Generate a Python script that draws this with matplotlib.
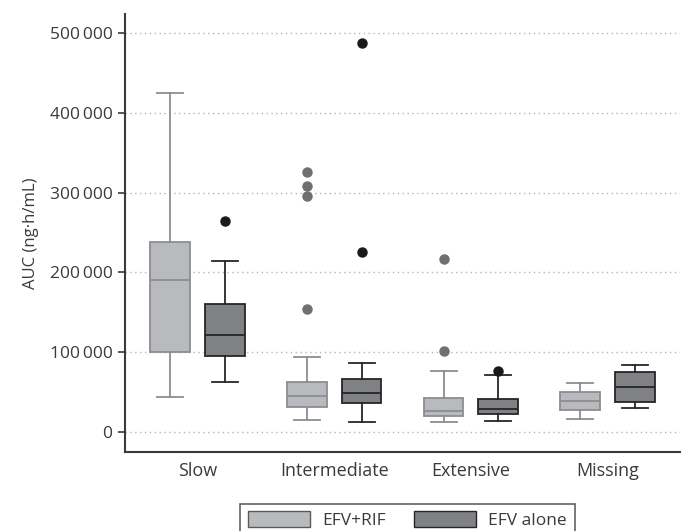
import matplotlib.pyplot as plt
from matplotlib.patches import Patch
from matplotlib.ticker import FuncFormatter

plt.rcParams['font.family'] = ['Open Sans', 'DejaVu Sans']

# Datos (AUC en ng·h/mL)
grupos = ["Slow", "Intermediate", "Extensive", "Missing"]

# EFV+RIF: [bigote inferior, Q1, mediana, Q3, bigote superior]
rif_stats = [
    [44000, 100000, 190000, 238000, 425000],
    [15000, 32000, 45000, 63000, 94000],
    [13000, 20000, 26000, 43000, 76000],
    [16000, 28000, 39000, 50000, 61000],
]
rif_outliers = [[], [326000, 308000, 296000, 154000], [217000, 102000], []]

# EFV alone
solo_stats = [
    [63000, 95000, 121000, 160000, 214000],
    [13000, 36000, 49000, 67000, 87000],
    [14000, 23000, 29000, 42000, 71000],
    [30000, 38000, 57000, 75000, 84000],
]
solo_outliers = [[265000], [487000, 226000], [76000], []]

yticks = [0, 100000, 200000, 300000, 400000, 500000]


def make_stats(stats, outliers):
    res = []
    for (lo, q1, med, q3, hi), fl in zip(stats, outliers):
        res.append(dict(whislo=lo, q1=q1, med=med, q3=q3, whishi=hi, fliers=fl))
    return res


fig = plt.figure(figsize=(6.81, 5.31), dpi=100)
ax = fig.add_axes([0.1836, 0.1488, 0.815, 0.825])

pos = list(range(len(grupos)))
off = 0.2

# Gráfica EFV+RIF
ax.bxp(make_stats(rif_stats, rif_outliers), positions=[p - off for p in pos],
       widths=0.29, capwidths=0.19, patch_artist=True,
       boxprops=dict(facecolor="#b9babd", edgecolor="#8c8d90", linewidth=1.3),
       medianprops=dict(color="#8c8d90", linewidth=1.3),
       whiskerprops=dict(color="#8c8d90", linewidth=1.3),
       capprops=dict(color="#8c8d90", linewidth=1.3),
       flierprops=dict(marker="o", markerfacecolor="#6e6f72", markeredgecolor="#6e6f72",
                       markersize=6.5), zorder=3)

# Gráfica EFV alone
ax.bxp(make_stats(solo_stats, solo_outliers), positions=[p + off for p in pos],
       widths=0.29, capwidths=0.19, patch_artist=True,
       boxprops=dict(facecolor="#808184", edgecolor="#262626", linewidth=1.3),
       medianprops=dict(color="#262626", linewidth=1.3),
       whiskerprops=dict(color="#262626", linewidth=1.3),
       capprops=dict(color="#262626", linewidth=1.3),
       flierprops=dict(marker="o", markerfacecolor="#1a1a1a", markeredgecolor="#1a1a1a",
                       markersize=6.5), zorder=3)

ax.set_xlim(-0.53, 3.53)
ax.set_ylim(-25000, 524000)
ax.set_xticks(pos)
ax.set_xticklabels(grupos)
ax.set_yticks(yticks)
ax.yaxis.set_major_formatter(FuncFormatter(lambda v, p: f"{int(v):,}".replace(",", "\u2009")))
ax.tick_params(axis="x", length=0, pad=7, labelsize=13, labelcolor="#3a3a3a")
ax.tick_params(axis="y", length=5, width=1.2, color="#3a3a3a", labelsize=12.5,
               labelcolor="#3a3a3a", pad=4)
ax.set_ylabel("AUC (ng·h/mL)", fontsize=12, color="#3a3a3a", labelpad=8)
ax.grid(axis="y", linestyle=(0, (1, 2.5)), color="#b5b5b5", linewidth=1)
ax.set_axisbelow(True)
for s in ["top", "right"]:
    ax.spines[s].set_visible(False)
for s in ["left", "bottom"]:
    ax.spines[s].set_color("#3a3a3a")
    ax.spines[s].set_linewidth(1.5)

handles = [Patch(facecolor="#b9babd", edgecolor="#5a5a5a", label="EFV+RIF"),
           Patch(facecolor="#808184", edgecolor="#262626", label="EFV alone")]
leg = fig.legend(handles=handles, loc="upper center", bbox_to_anchor=(0.598, 0.068),
                 ncol=2, fontsize=12.5, fancybox=False, frameon=True,
                 handlelength=3.6, handleheight=1.0, handletextpad=0.7,
                 columnspacing=1.6, borderpad=0.45, labelcolor="#3a3a3a")
leg.get_frame().set_edgecolor("#3a3a3a")
leg.get_frame().set_linewidth(1.2)

fig.savefig("out.png", dpi=100)
